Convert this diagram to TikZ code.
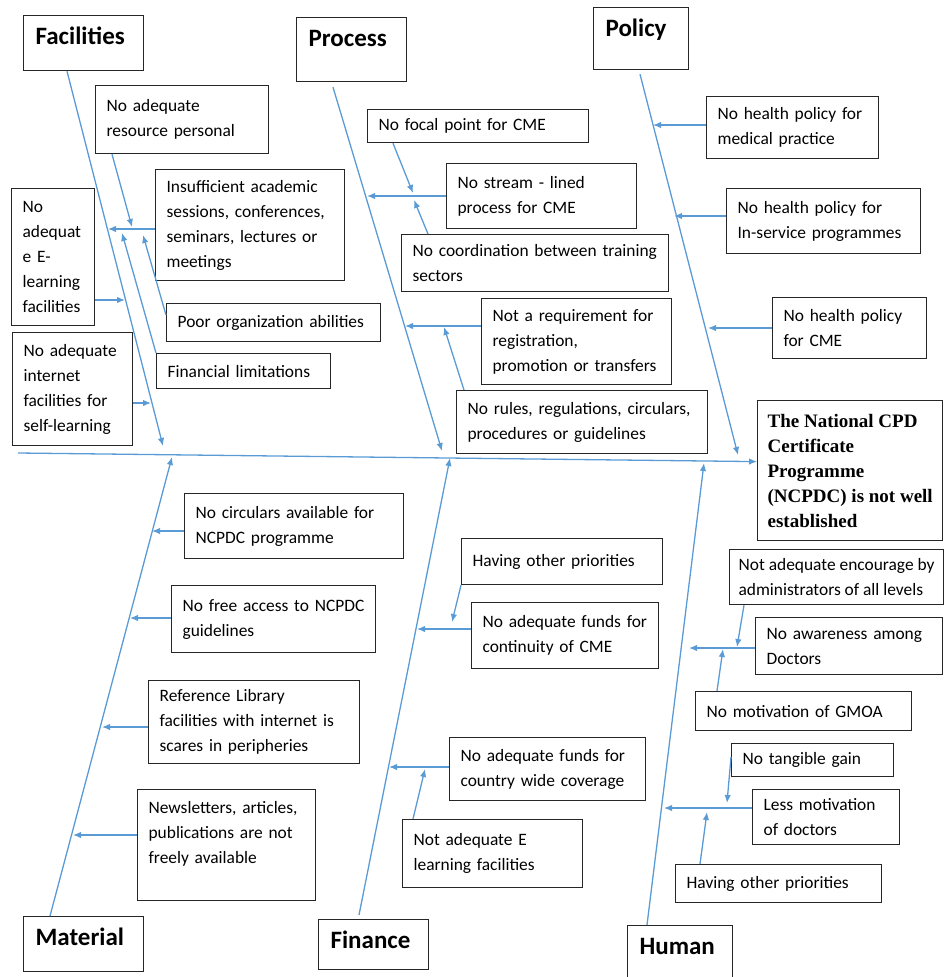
\documentclass[tikz,border=0pt]{standalone}
\usepackage{fontspec}
\setmainfont{Carlito}
\newfontfamily\effectfont{Liberation Serif}
\usetikzlibrary{arrows.meta}
\definecolor{boneblue}{RGB}{91,155,213}
\newcommand{\causefont}{\fontsize{17.4}{25}\selectfont}
\hyphenpenalty=10000
\tikzset{>={Latex[length=8pt,width=6.5pt]}}

\begin{document}
\begin{tikzpicture}[x=1pt,y=-1pt,
    bone/.style={draw=boneblue,line width=1.3pt},
    box/.style={draw=black!85,line width=1.2pt,anchor=north west},
    cause/.style={box,align=left,inner xsep=11pt,inner ysep=3pt,font=\causefont},
    category/.style={box,align=left,inner xsep=12pt,inner ysep=13pt,text height=16pt,
      font=\fontsize{25}{28}\selectfont\bfseries}]
\useasboundingbox (0,0) rectangle (945,977);

% categories
\node[category,text width=96pt,text depth=13pt] (facil) at (23,15) {Facilities};
\node[category,text width=86pt,text depth=22pt] (proc) at (296,17) {Process};
\node[category,text width=71pt,text depth=20pt] (poli) at (593,7) {Policy};
\node[category,text width=96pt,text depth=13pt] (mater) at (23,916) {Material};
\node[category,text width=86pt,text depth=8pt] (fina) at (318,919) {Finance};
\node[category,text width=81pt,text depth=23pt] (huma) at (627,925) {Human};

% effect
\node[box,align=left,inner xsep=10pt,inner ysep=3pt,minimum height=140pt,
  font=\effectfont\bfseries\fontsize{19}{25}\selectfont] (eff) at (757,400)
  {The National CPD\\Certificate\\Programme\\(NCPDC) is not well\\established};

% facilities causes
\node[cause,text width=151pt,minimum height=68pt] (fres) at (95,85) {No adequate\\resource personal};
\node[cause,text width=167pt,minimum height=111pt] (fsess) at (155,169) {Insufficient academic\\sessions, conferences,\\seminars, lectures or\\meetings};
\node[cause,text width=61pt,minimum height=137pt] (felearn) at (11,188) {No\\adequat\\e E-\\learning\\facilities};
\node[cause,text width=192pt,minimum height=38pt] (fpoor) at (166,303) {Poor organization abilities};
\node[cause,text width=98pt,minimum height=113pt] (finet) at (12,332) {No adequate\\internet\\facilities for\\self-learning};
\node[cause,text width=152pt,minimum height=35pt] (ffin) at (156,353) {Financial limitations};

% process causes
\node[cause,text width=199pt,minimum height=33pt] (pfocal) at (367,109) {No focal point for CME};
\node[cause,text width=168pt,minimum height=65pt] (pstream) at (446,163) {No stream - lined\\process for CME};
\node[cause,text width=245pt,minimum height=57pt] (pcoord) at (401,234) {No coordination between training\\sectors};
\node[cause,text width=168pt,minimum height=86pt] (preq) at (481,298) {Not a requirement for\\registration,\\promotion or transfers};
\node[cause,text width=229pt,minimum height=63pt] (prules) at (456,390) {No rules, regulations, circulars,\\procedures or guidelines};

% policy causes
\node[cause,text width=150pt,minimum height=62pt] (pomed) at (706,96) {No health policy for\\medical practice};
\node[cause,text width=172pt,minimum height=65pt] (poserv) at (726,188) {No health policy for\\In-service programmes};
\node[cause,text width=132pt,minimum height=61pt] (pocme) at (772,297) {No health policy\\for CME};

% material causes
\node[cause,text width=197pt,minimum height=65pt] (mcirc) at (184,493) {No circulars available for\\NCPDC programme};
\node[cause,text width=182pt,minimum height=67pt] (mfree) at (171,585) {No free access to NCPDC\\guidelines};
\node[cause,text width=189pt,minimum height=83pt] (mlib) at (148,680) {Reference Library\\facilities with internet is\\scares in peripheries};
\node[cause,text width=156pt,minimum height=111pt] (mnews) at (137,789) {Newsletters, articles,\\publications are not\\freely available\\ \mbox{}};

% finance causes
\node[cause,text width=179pt,minimum height=46pt] (fiprio) at (461,538) {Having other priorities};
\node[cause,text width=165pt,minimum height=66pt] (ficont) at (471,602) {No adequate funds for\\continuity of CME};
\node[cause,text width=174pt,minimum height=63pt] (fictry) at (449,737) {No adequate funds for\\country wide coverage};
\node[cause,text width=158pt,minimum height=68pt] (fielearn) at (402,819) {Not adequate E\\learning facilities};

% human causes
\node[cause,inner xsep=9pt,minimum height=55pt] (hencour) at (729,549) {Not adequate encourage by\\administrators of all levels};
\node[cause,text width=165pt,minimum height=57pt] (haware) at (755,617) {No awareness among\\Doctors};
\node[cause,text width=194pt,minimum height=39pt] (hgmoa) at (695,691) {No motivation of GMOA};
\node[cause,text width=140pt,minimum height=33pt] (htang) at (731,743) {No tangible gain};
\node[cause,text width=125pt,minimum height=55pt] (hless) at (752,789) {Less motivation\\of doctors};
\node[cause,text width=184pt,minimum height=38pt] (hprio) at (675,864) {Having other priorities};

% spine tips and branch tips
\coordinate (tail) at (18,453);
\coordinate (facTip) at (163,446);
\coordinate (procTip) at (442,451);
\coordinate (polTip) at (738,455);
\coordinate (matTip) at (172,457);
\coordinate (finTip) at (450,458);
\coordinate (humTip) at (704,463);

\coordinate (sessTip) at (108,229);
\coordinate (elTip) at (125,300);
\coordinate (inetTip) at (151,403);
\coordinate (resTip) at (132,227);
\coordinate (poorTip) at (143,235);
\coordinate (finlTip) at (122,233);

\coordinate (streamTip) at (367,196);
\coordinate (reqTip) at (405,326);
\coordinate (focalTip) at (413,193);
\coordinate (coordTip) at (414,200);
\coordinate (rulesTip) at (444,327);

\coordinate (medTip) at (653,125);
\coordinate (servTip) at (674,216);
\coordinate (cmeTip) at (708,328);

\coordinate (circTip) at (152,531);
\coordinate (freeTip) at (130,618);
\coordinate (libTip) at (102,727);
\coordinate (newsTip) at (73,835);

\coordinate (contTip) at (417,629);
\coordinate (ctryTip) at (389,767);
\coordinate (fprioTip) at (452,622);
\coordinate (felTip) at (425,769);

\coordinate (awareTip) at (689,648);
\coordinate (lessTip) at (664,808);
\coordinate (encTip) at (737,647);
\coordinate (gmoaTip) at (723,649);
\coordinate (tangTip) at (727,803);
\coordinate (hprioTip) at (707,812);

% main spine and bones
\draw[bone,->] (tail) -- ([yshift=9pt]eff.west);
\draw[bone,->] ([xshift=44pt]facil.south west) -- (facTip);
\draw[bone,->] ([xshift=37pt,yshift=-5pt]proc.south west) -- (procTip);
\draw[bone,->] ([xshift=47pt,yshift=-4pt]poli.south west) -- (polTip);
\draw[bone,->] ([xshift=27pt]mater.north west) -- (matTip);
\draw[bone,->] ([xshift=41pt,yshift=4pt]fina.north west) -- (finTip);
\draw[bone,->] ([xshift=20pt]huma.north west) -- (humTip);

% facilities
\draw[bone,->] (fsess.west |- sessTip) -- (sessTip);
\draw[bone,->] (felearn.east |- elTip) -- (elTip);
\draw[bone,->] (finet.east |- inetTip) -- (inetTip);
\draw[bone,->] ([xshift=17pt]fres.south west) -- (resTip);
\draw[bone,->] ([yshift=-12pt]fpoor.north west) -- (poorTip);
\draw[bone,->] (ffin.north west) -- (finlTip);

% process
\draw[bone,->] (pstream.west |- streamTip) -- (streamTip);
\draw[bone,->] (preq.west |- reqTip) -- (reqTip);
\draw[bone,->] ([xshift=26pt]pfocal.south west) -- (focalTip);
\draw[bone,->] ([xshift=27pt]pcoord.north west) -- (coordTip);
\draw[bone,->] ([xshift=8pt]prules.north west) -- (rulesTip);

% policy
\draw[bone,->] (pomed.west |- medTip) -- (medTip);
\draw[bone,->] (poserv.west |- servTip) -- (servTip);
\draw[bone,->] (pocme.west |- cmeTip) -- (cmeTip);

% material
\draw[bone,->] (mcirc.west |- circTip) -- (circTip);
\draw[bone,->] (mfree.west |- freeTip) -- (freeTip);
\draw[bone,->] (mlib.west |- libTip) -- (libTip);
\draw[bone,->] (mnews.west |- newsTip) -- (newsTip);

% finance
\draw[bone,->] (ficont.west |- contTip) -- (contTip);
\draw[bone,->] (fictry.west |- ctryTip) -- (ctryTip);
\draw[bone,->] (fiprio.south west) -- (fprioTip);
\draw[bone,->] ([xshift=11pt]fielearn.north west) -- (felTip);

% human
\draw[bone,->] (haware.west |- awareTip) -- (awareTip);
\draw[bone,->] (hless.west |- lessTip) -- (lessTip);
\draw[bone,->] ([xshift=15pt]hencour.south west) -- (encTip);
\draw[bone,->] ([xshift=22pt]hgmoa.north west) -- (gmoaTip);
\draw[bone,->] ([yshift=-14pt]htang.north west) -- (tangTip);
\draw[bone,->] ([xshift=25pt]hprio.north west) -- (hprioTip);
\end{tikzpicture}
\end{document}
